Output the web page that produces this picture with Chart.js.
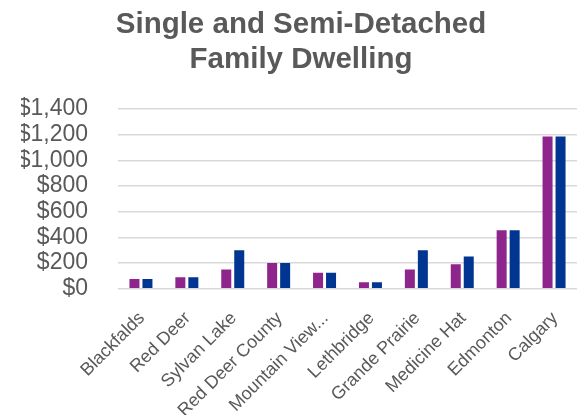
<!DOCTYPE html>
<html>
<head>
<meta charset="utf-8">
<style>
  html, body { margin: 0; padding: 0; background: #ffffff; }
  #wrap { width: 577px; height: 415px; }
</style>
<script src="https://cdn.jsdelivr.net/npm/chart.js@4"></script>
</head>
<body>
<div id="wrap"><canvas id="c" width="577" height="415"></canvas></div>
<script>
// Municipalities compared
const categories = ['Blackfalds', 'Red Deer', 'Sylvan Lake', 'Red Deer County', 'Mountain View...',
  'Lethbridge', 'Grande Prairie', 'Medicine Hat', 'Edmonton', 'Calgary'];
// Two fee series per municipality
const seriesPurple = [75, 90, 150, 200, 125, 50, 150, 190, 455, 1185];
const seriesBlue = [75, 90, 300, 200, 125, 50, 300, 250, 455, 1185];
// Value axis
const yTicks = [0, 200, 400, 600, 800, 1000, 1200, 1400];
// Heading lines
const titleLines = ['Single and Semi-Detached', 'Family Dwelling'];

const gray = '#595959';

// Two-line heading, centred a little right of the canvas middle
const headingPlugin = {
  id: 'heading',
  afterDraw(chart) {
    const ctx = chart.ctx;
    ctx.save();
    ctx.fillStyle = gray;
    ctx.font = 'bold 29.5px "Liberation Sans", Arial, sans-serif';
    ctx.textAlign = 'center';
    ctx.textBaseline = 'alphabetic';
    titleLines.forEach((line, i) => ctx.fillText(line, 301, 33 + i * 35));
    ctx.restore();
  }
};

new Chart(document.getElementById('c'), {
  type: 'bar',
  data: {
    labels: categories,
    datasets: [
      { data: seriesPurple, backgroundColor: '#8E258D', categoryPercentage: 0.566, barPercentage: 0.77 },
      { data: seriesBlue, backgroundColor: '#003591', categoryPercentage: 0.566, barPercentage: 0.77 }
    ]
  },
  options: {
    responsive: false,
    animation: false,
    layout: { padding: { left: 21, right: 0, top: 109, bottom: 0 } },
    plugins: {
      legend: { display: false },
      tooltip: { enabled: false },
      title: { display: false }
    },
    scales: {
      x: {
        grid: { display: false },
        border: { display: false },
        // slanted names hang below the value labels; keep a fixed band for them
        afterFit: (axis) => { axis.paddingLeft = 0; axis.paddingRight = 0; axis.height = 126.3; },
        ticks: {
          color: gray,
          font: { family: 'Liberation Sans', size: 18 },
          minRotation: 45,
          maxRotation: 45,
          autoSkip: false,
          padding: 11,
          labelOffset: 1
        }
      },
      y: {
        min: 0,
        max: 1400,
        afterBuildTicks: (axis) => { axis.ticks = yTicks.map(v => ({ value: v })); },
        afterFit: (axis) => { axis.width = 97; },
        grid: { color: '#d9d9d9', lineWidth: 1.5, drawTicks: false },
        border: { display: false },
        ticks: {
          autoSkip: false,
          color: gray,
          font: { family: 'Liberation Sans', size: 23 },
          padding: 30,
          callback: (v) => '$' + v.toLocaleString('en-US')
        }
      }
    }
  },
  plugins: [headingPlugin]
});
</script>
</body>
</html>
